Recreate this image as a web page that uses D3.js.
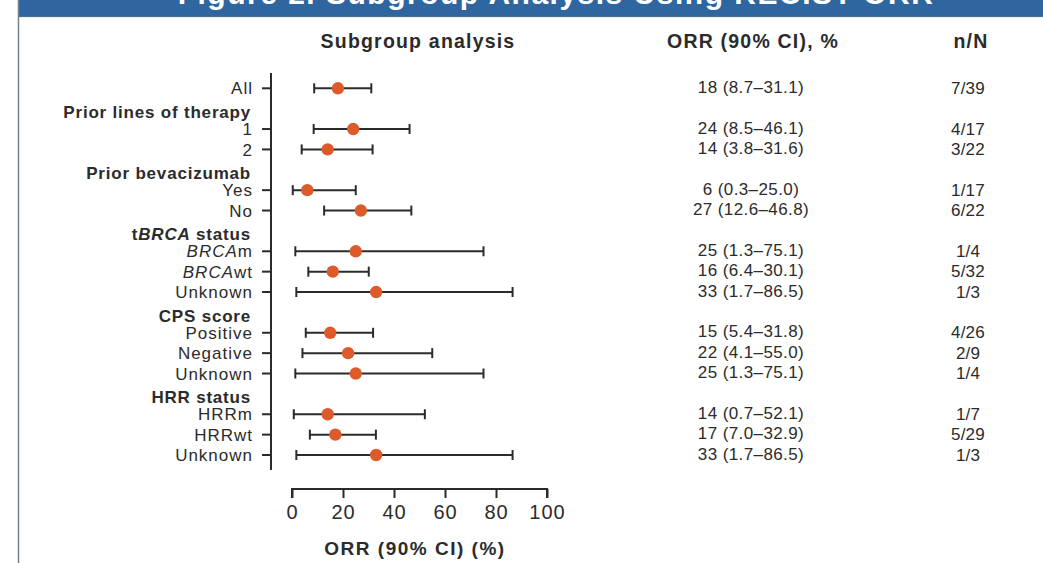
<!DOCTYPE html>
<html><head><meta charset="utf-8">
<script src="https://cdn.jsdelivr.net/npm/d3@7"></script>
<style>
html,body{margin:0;padding:0;background:#fff;}
svg{display:block;font-family:"Liberation Sans",Arial,sans-serif;}
</style></head>
<body>
<script>
const titleText = "Figure 2. Subgroup Analysis Using RECIST ORR";
const colHeaders = ["Subgroup analysis", "ORR (90% CI), %", "n/N"];
const rowLabels = ["All", "Prior lines of therapy", "1", "2", "Prior bevacizumab", "Yes", "No",
  "tBRCA status", "BRCAm", "BRCAwt", "Unknown", "CPS score", "Positive", "Negative", "Unknown",
  "HRR status", "HRRm", "HRRwt", "Unknown"];
const orr    = [18, null, 24, 14, null, 6, 27, null, 25, 16, 33, null, 15, 22, 25, null, 14, 17, 33];
const ciLow  = [8.7, null, 8.5, 3.8, null, 0.3, 12.6, null, 1.3, 6.4, 1.7, null, 5.4, 4.1, 1.3, null, 0.7, 7.0, 1.7];
const ciHigh = [31.1, null, 46.1, 31.6, null, 25.0, 46.8, null, 75.1, 30.1, 86.5, null, 31.8, 55.0, 75.1, null, 52.1, 32.9, 86.5];
const nN     = ["7/39", null, "4/17", "3/22", null, "1/17", "6/22", null, "1/4", "5/32", "1/3", null, "4/26", "2/9", "1/4", null, "1/7", "5/29", "1/3"];
const xTicks = [0, 20, 40, 60, 80, 100];
const xTitle = "ORR (90% CI) (%)";

const W = 1043, H = 563;
const svg = d3.select("body").append("svg").attr("width", W).attr("height", H);

// frame + banner
svg.append("rect").attr("x", 18).attr("y", 0).attr("width", W - 18).attr("height", 16).attr("fill", "#2f66a0");
svg.append("text").attr("x", 556).attr("y", 4).attr("text-anchor", "middle")
  .attr("fill", "#fff").attr("font-weight", "bold").attr("font-size", 30).attr("letter-spacing", 1.5)
  .text(titleText);
svg.append("line").attr("x1", 18).attr("x2", W).attr("y1", 16.5).attr("y2", 16.5).attr("stroke", "#4a6d90").attr("stroke-width", 1);
svg.append("line").attr("x1", 19).attr("x2", W).attr("y1", 17.5).attr("y2", 17.5).attr("stroke", "#dff3fa").attr("stroke-width", 1);
svg.append("line").attr("x1", 18.5).attr("x2", 18.5).attr("y1", 0).attr("y2", H).attr("stroke", "#6f8294").attr("stroke-width", 1.5);

const ink = "#2b2b2b";
const idx = rowLabels.map((d, i) => i);
const y = d3.scalePoint().domain(idx).range([88.3, 455]);
const x = d3.scaleLinear().domain([0, 100]).range([292, 547]);

// column headers
const hx = [418, 753, 971];
colHeaders.forEach((t, i) => {
  svg.append("text").attr("x", hx[i]).attr("y", 48).attr("text-anchor", "middle")
    .attr("font-weight", "bold").attr("font-size", 19.5).attr("letter-spacing", 1.2).attr("fill", ink).text(t);
});

// y axis line
svg.append("line").attr("x1", 271).attr("x2", 271).attr("y1", 73).attr("y2", 470)
  .attr("stroke", ink).attr("stroke-width", 2);

const dataRows = idx.filter(i => orr[i] !== null);
const headRows = idx.filter(i => orr[i] === null);

// y ticks
svg.selectAll(".ytick").data(dataRows).join("line")
  .attr("x1", 262).attr("x2", 271).attr("y1", i => y(i)).attr("y2", i => y(i))
  .attr("stroke", ink).attr("stroke-width", 2);

// labels
function addLabel(sel, t) {
  const m = t.match(/^(t?)(BRCA)(.*)$/);
  if (m) {
    if (m[1]) sel.append("tspan").text(m[1]);
    sel.append("tspan").attr("font-style", "italic").text(m[2]);
    sel.append("tspan").text(m[3]);
  } else sel.text(t);
}
dataRows.forEach(i => {
  const t = svg.append("text").attr("x", 253).attr("y", y(i)).attr("dy", "0.36em")
    .attr("text-anchor", "end").attr("font-size", 17).attr("letter-spacing", 1).attr("fill", ink);
  addLabel(t, rowLabels[i]);
});
headRows.forEach(i => {
  const t = svg.append("text").attr("x", 251).attr("y", y(i) + 3).attr("dy", "0.36em")
    .attr("text-anchor", "end").attr("font-size", 17).attr("font-weight", "bold").attr("letter-spacing", 0.8).attr("fill", ink);
  addLabel(t, rowLabels[i]);
});

// CI bars
const g = svg.append("g");
g.selectAll(".ci").data(dataRows).join("line")
  .attr("x1", i => x(ciLow[i])).attr("x2", i => x(ciHigh[i]))
  .attr("y1", i => y(i)).attr("y2", i => y(i)).attr("stroke", ink).attr("stroke-width", 2);
g.selectAll(".capL").data(dataRows).join("line")
  .attr("x1", i => x(ciLow[i])).attr("x2", i => x(ciLow[i]))
  .attr("y1", i => y(i) - 5).attr("y2", i => y(i) + 5).attr("stroke", ink).attr("stroke-width", 2);
g.selectAll(".capR").data(dataRows).join("line")
  .attr("x1", i => x(ciHigh[i])).attr("x2", i => x(ciHigh[i]))
  .attr("y1", i => y(i) - 5).attr("y2", i => y(i) + 5).attr("stroke", ink).attr("stroke-width", 2);
g.selectAll(".pt").data(dataRows).join("circle")
  .attr("cx", i => x(orr[i])).attr("cy", i => y(i)).attr("r", 6.2).attr("fill", "#dd5a2a");

// right columns
dataRows.forEach(i => {
  svg.append("text").attr("x", 751).attr("y", y(i) - 1.5).attr("dy", "0.36em").attr("text-anchor", "middle")
    .attr("font-size", 17).attr("letter-spacing", 0.4).attr("fill", ink)
    .text(`${orr[i]} (${ciLow[i].toFixed(1)}\u2013${ciHigh[i].toFixed(1)})`);
  svg.append("text").attr("x", 968).attr("y", y(i) - 0.5).attr("dy", "0.36em").attr("text-anchor", "middle")
    .attr("font-size", 17).attr("letter-spacing", 0.2).attr("fill", ink).text(nN[i]);
});

// x axis
const xa = svg.append("g").attr("transform", "translate(0,489)")
  .call(d3.axisBottom(x).tickValues(xTicks).tickSize(9).tickPadding(7).tickFormat(d3.format("d")));
xa.select(".domain").attr("d", `M${x(0)},9V0H${x(100)}V9`).attr("stroke", ink).attr("stroke-width", 2);
xa.selectAll(".tick line").attr("stroke", ink).attr("stroke-width", 2);
xa.selectAll(".tick text").attr("font-size", 20).attr("letter-spacing", 1).attr("fill", ink)
  .attr("font-family", "\"Liberation Sans\",Arial,sans-serif");
svg.append("text").attr("x", 415).attr("y", 555).attr("text-anchor", "middle")
  .attr("font-weight", "bold").attr("font-size", 19).attr("letter-spacing", 1.5).attr("fill", ink).text(xTitle);
</script>
</body></html>
